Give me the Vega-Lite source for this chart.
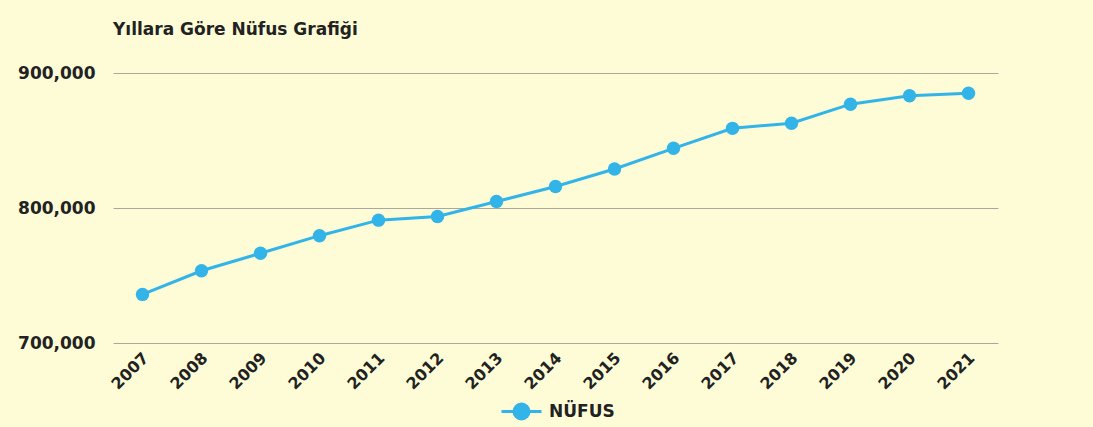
{
  "$schema": "https://vega.github.io/schema/vega-lite/v6.json",
  "width": 885,
  "height": 270,
  "autosize": {"type": "none"},
  "padding": {"left": 113, "top": 73, "right": 95, "bottom": 84},
  "background": "#fdfcd6",
  "title": {
    "text": "Yıllara Göre Nüfus Grafiği",
    "anchor": "start",
    "frame": "group",
    "font": "DejaVu Sans",
    "fontSize": 17,
    "fontWeight": "bold",
    "color": "#222222",
    "offset": 25
  },
  "config": {"view": {"stroke": null}, "font": "DejaVu Sans"},
  "data": {
    "values": [
      {"yil": "2007", "nufus": 736000, "seri": "NÜFUS"},
      {"yil": "2008", "nufus": 753500, "seri": "NÜFUS"},
      {"yil": "2009", "nufus": 766500, "seri": "NÜFUS"},
      {"yil": "2010", "nufus": 779500, "seri": "NÜFUS"},
      {"yil": "2011", "nufus": 791000, "seri": "NÜFUS"},
      {"yil": "2012", "nufus": 793700, "seri": "NÜFUS"},
      {"yil": "2013", "nufus": 804800, "seri": "NÜFUS"},
      {"yil": "2014", "nufus": 815900, "seri": "NÜFUS"},
      {"yil": "2015", "nufus": 828900, "seri": "NÜFUS"},
      {"yil": "2016", "nufus": 844200, "seri": "NÜFUS"},
      {"yil": "2017", "nufus": 859000, "seri": "NÜFUS"},
      {"yil": "2018", "nufus": 862800, "seri": "NÜFUS"},
      {"yil": "2019", "nufus": 876900, "seri": "NÜFUS"},
      {"yil": "2020", "nufus": 883100, "seri": "NÜFUS"},
      {"yil": "2021", "nufus": 885000, "seri": "NÜFUS"}
    ]
  },
  "encoding": {
    "x": {
      "field": "yil",
      "type": "ordinal",
      "scale": {"type": "point", "padding": 0.5},
      "axis": {
        "title": null,
        "labelAngle": -45,
        "labelAlign": "right",
        "labelBaseline": "middle",
        "labelFontSize": 16,
        "labelFontWeight": "bold",
        "labelColor": "#222222",
        "ticks": false,
        "domain": false,
        "grid": false,
        "labelPadding": 12,
        "labelOffset": 3
      }
    },
    "y": {
      "field": "nufus",
      "type": "quantitative",
      "scale": {"domain": [700000, 900000]},
      "axis": {
        "title": null,
        "values": [700000, 800000, 900000],
        "format": ",.0f",
        "labelFontSize": 17,
        "labelFontWeight": "bold",
        "labelColor": "#222222",
        "ticks": false,
        "domain": false,
        "labelPadding": 18,
        "gridColor": "#a8a8a0",
        "gridWidth": 1
      }
    },
    "color": {
      "field": "seri",
      "type": "nominal",
      "scale": {"range": ["#33b4e8"]},
      "legend": {
        "title": null,
        "orient": "none",
        "legendX": 397,
        "legendY": 327,
        "symbolType": "M -2 0 L 2 0 M 0.75 0 A 0.75 0.75 0 1 1 -0.75 0 A 0.75 0.75 0 1 1 0.75 0 Z",
        "symbolSize": 400,
        "symbolStrokeWidth": 3,
        "symbolFillColor": "#33b4e8",
        "symbolStrokeColor": "#33b4e8",
        "symbolOpacity": 1,
        "labelFontSize": 17,
        "labelFontWeight": "bold",
        "labelColor": "#222222",
        "labelOffset": 16
      }
    }
  },
  "layer": [
    {"mark": {"type": "line", "strokeWidth": 3, "color": "#45bde9"}},
    {"mark": {"type": "circle", "size": 180, "opacity": 1}}
  ]
}
